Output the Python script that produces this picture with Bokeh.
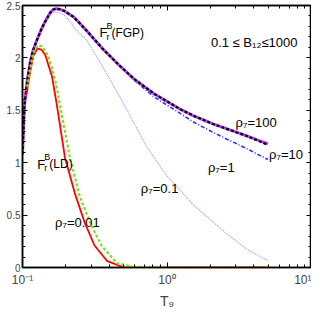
import math
from bokeh.plotting import figure
from bokeh.models import Label, LinearAxis, LogAxis, FixedTicker
from bokeh.embed import file_html
from bokeh.resources import INLINE

# ---------------- data ----------------
T_fgp = [0.100, 0.1032, 0.1082, 0.1134, 0.1189, 0.1266, 0.1348, 0.1413, 0.1553, 0.1625,
         0.1707, 0.1800, 0.1935, 0.2264, 0.2778, 0.3572, 0.4665, 0.5905, 0.8088, 1.236,
         1.517, 2.077, 3.488, 5.0]
sef_rho100 = [1.08, 1.55, 1.80, 1.97, 2.08, 2.18, 2.27, 2.33, 2.43, 2.46,
              2.47, 2.465, 2.45, 2.39, 2.26, 2.09, 1.93, 1.80, 1.66, 1.51,
              1.45, 1.37, 1.26, 1.18]
sef_rho10 = [1.08, 1.55, 1.80, 1.97, 2.08, 2.18, 2.27, 2.33, 2.43, 2.46,
             2.47, 2.465, 2.45, 2.39, 2.26, 2.09, 1.93, 1.80, 1.66, 1.51,
             1.45, 1.37, 1.26, 1.17]
sef_rho1 = [1.08, 1.55, 1.80, 1.97, 2.08, 2.18, 2.27, 2.33, 2.43, 2.46,
            2.47, 2.465, 2.45, 2.39, 2.26, 2.09, 1.93, 1.79, 1.63, 1.47,
            1.39, 1.29, 1.14, 1.03]
T_rho01 = [0.100, 0.1032, 0.1082, 0.1134, 0.1189, 0.1266, 0.1348, 0.1413, 0.1553, 0.1650,
           0.1800, 0.1935, 0.2127, 0.2300, 0.2778, 0.3572, 0.4665, 0.5905, 0.7245, 0.9922,
           1.517, 2.547, 3.600, 5.0]
sef_rho01 = [1.08, 1.55, 1.80, 1.97, 2.08, 2.18, 2.27, 2.32, 2.41, 2.44,
             2.43, 2.41, 2.35, 2.28, 2.17, 1.92, 1.64, 1.38, 1.15, 0.88,
             0.60, 0.33, 0.17, 0.065]
T_ld = [0.1065, 0.1134, 0.1189, 0.1266, 0.1348, 0.1436, 0.1602, 0.1734, 0.1966, 0.2300,
        0.2692, 0.3150, 0.3864, 0.5047, 1.0, 5.0]
sef_ld_red = [1.65, 1.88, 2.02, 2.09, 2.08, 2.03, 1.82, 1.54, 1.05, 0.71,
              0.43, 0.21, 0.06, 0.0, 0.0, 0.0]
T_ld2 = [0.1082, 0.1152, 0.1207, 0.1286, 0.1369, 0.1505, 0.1680, 0.1875, 0.2127, 0.2488,
         0.3004, 0.3516, 0.4519, 0.5905, 1.0, 5.0]
sef_ld_green = [1.72, 1.95, 2.07, 2.12, 2.11, 2.02, 1.80, 1.45, 1.05, 0.68,
                0.40, 0.21, 0.04, 0.005, 0.0, 0.0]

x_ticks = [0.1, 1, 10]
x_tick_labels = ["10\u207b\u00b9", "10\u2070", "10\u00b9"]
y_ticks = [0, 0.5, 1, 1.5, 2, 2.5]
y_tick_labels = ["0", "0.5", "1", "1.5", "2", "2.5"]

FONT_STR = "Liberation Sans"

p = figure(width=311, height=311, x_axis_type="log", x_range=(0.1, 10), y_range=(0, 2.5),
           output_backend="svg", toolbar_location=None,
           min_border_left=22, min_border_right=0, min_border_top=5, min_border_bottom=42)
p.background_fill_color = "white"
p.border_fill_color = "white"
p.outline_line_color = "black"
p.outline_line_width = 1.5
p.xgrid.visible = False
p.ygrid.visible = False

x_minor = [m * 10 ** e for e in (-1, 0) for m in range(2, 10)]
y_minor = [i / 10 for i in range(26)]


def style_axis(ax, show_labels):
    ax.axis_line_color = "black"
    ax.axis_line_width = 1.5
    ax.major_tick_in = 5
    ax.major_tick_out = 0
    ax.minor_tick_in = 3
    ax.minor_tick_out = 0
    ax.major_tick_line_color = "black"
    ax.minor_tick_line_color = "black"
    if not show_labels:
        ax.major_label_text_font_size = "1px"
        ax.major_label_text_color = None
        ax.major_label_standoff = 0


xa = p.xaxis[0]
xa.ticker = FixedTicker(ticks=x_ticks, minor_ticks=x_minor)
xa.major_label_overrides = dict(zip(x_ticks, x_tick_labels))
xa.major_label_text_font = FONT_STR
xa.major_label_text_font_size = "12px"
xa.major_label_standoff = 5
xa.axis_label = "T\u2089"
xa.axis_label_text_font = FONT_STR
xa.axis_label_text_font_style = "normal"
xa.axis_label_text_font_size = "14px"
xa.axis_label_standoff = 3
style_axis(xa, True)

ya = p.yaxis[0]
ya.ticker = FixedTicker(ticks=y_ticks, minor_ticks=y_minor)
ya.major_label_overrides = dict(zip(y_ticks, y_tick_labels))
ya.major_label_text_font = FONT_STR
ya.major_label_text_font_size = "10px"
ya.major_label_standoff = 2
style_axis(ya, True)

ra = LinearAxis(ticker=FixedTicker(ticks=y_ticks, minor_ticks=y_minor))
style_axis(ra, False)
p.add_layout(ra, "right")
ta = LogAxis(ticker=FixedTicker(ticks=x_ticks, minor_ticks=x_minor))
style_axis(ta, False)
p.add_layout(ta, "above")

# ---------------- curves ----------------
p.line(T_rho01, sef_rho01, line_color="#8fa0ff", line_width=1.2, line_dash="1 1")
p.line(T_fgp, sef_rho1, line_color="#3030ff", line_width=1.6, line_dash="4 2 1 2")
p.line(T_fgp, sef_rho100, line_color="#c040ff", line_width=3)
p.line(T_fgp, sef_rho10, line_color="black", line_width=2.2, line_dash="3 2")
p.line(T_ld, sef_ld_red, line_color="#ff0000", line_width=1.8)
p.line(T_ld2, sef_ld_green, line_color="#80e020", line_width=2.2, line_dash="3 2")


# ---------------- texts ----------------
def lab(x, y, text, size, dx=0, dy=0, align="left", baseline="alphabetic", angle=0):
    p.add_layout(Label(x=x, y=y, text=text, x_offset=dx, y_offset=dy,
                       text_font=FONT_STR, text_font_size=size, text_align=align,
                       text_baseline=baseline, angle=angle, text_color="black"))


# F_r^B(FGP)
lab(0.3406, 2.24, "F", "13px")
lab(0.3406, 2.24, "B", "9px", dx=7, dy=7)
lab(0.3406, 2.24, "r", "9px", dx=7, dy=-4)
lab(0.3406, 2.24, "(FGP)", "12px", dx=12)
# F_r^B(LD)
lab(0.1266, 0.985, "F", "13px")
lab(0.1266, 0.985, "B", "9px", dx=7, dy=7)
lab(0.1266, 0.985, "r", "9px", dx=7, dy=-4)
lab(0.1266, 0.985, "(LD)", "12px", dx=12)

lab(2.013, 2.147, "0.1 \u2264 B\u2081\u2082\u22641000", "13px")
lab(2.98, 1.385, "\u03c1\u2087=100", "13px")
lab(5.09, 1.078, "\u03c1\u2087=10", "13px")
lab(1.92, 0.957, "\u03c1\u2087=1", "13px")
lab(0.659, 0.753, "\u03c1\u2087=0.1", "13px")
lab(0.168, 0.4275, "\u03c1\u2087=0.01", "13px")

# y axis title
lab(0.0775, 1.25, "SEF(r)", "12px", align="center", baseline="middle", angle=math.pi / 2)

open("out.html", "w").write(file_html(p, INLINE))
